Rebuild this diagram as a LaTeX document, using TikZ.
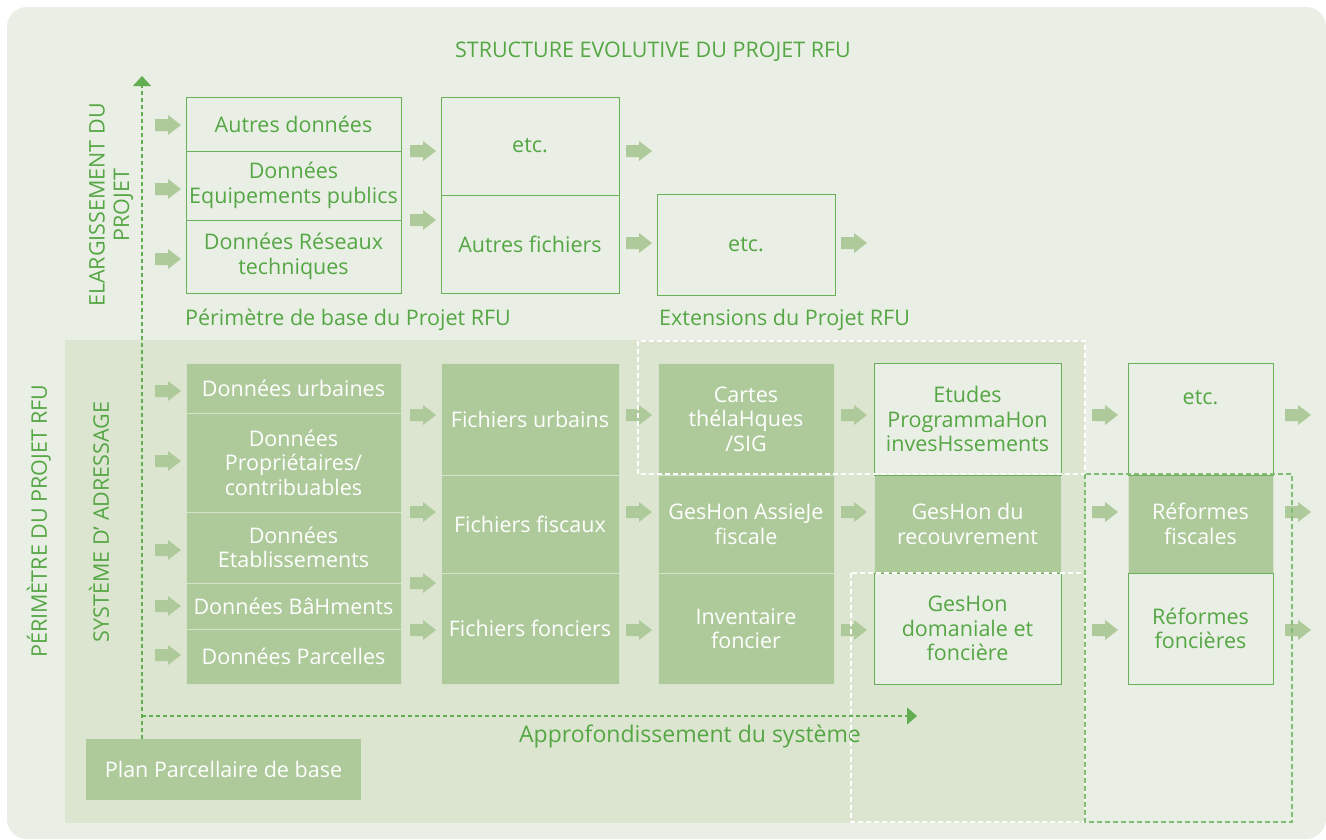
\documentclass[tikz,border=0pt]{standalone}
\usepackage{fontspec}
\setmainfont{Open Sans}
\usepackage{tikz}
\usetikzlibrary{arrows.meta}

\definecolor{bgpale}{HTML}{E9EFE4}
\definecolor{bgdark}{HTML}{DCE5D0}
\definecolor{boxfill}{HTML}{AECA9B}
\definecolor{sepline}{HTML}{D6E2CB}
\definecolor{txtgreen}{HTML}{55A644}
\definecolor{boxline}{HTML}{6AB058}
\definecolor{guidegreen}{HTML}{62AE50}

\tikzset{
	basebox/.style={inner sep=0pt, align=center, font=\fontsize{21.5}{24.5}\selectfont},
	linebox/.style={basebox, draw=boxline, line width=1pt, fill=bgpale, text=txtgreen},
	fullbox/.style={basebox, draw=sepline, line width=1pt, fill=boxfill, text=white},
	lbltext/.style={inner sep=0pt, text=txtgreen, font=\fontsize{21.5}{24.5}\selectfont},
	guide/.style={draw=guidegreen, line width=1.1pt, dash pattern=on 4pt off 3pt},
	whiteguide/.style={draw=white, line width=1.4pt, dash pattern=on 5pt off 3pt},
	greenguide/.style={draw=guidegreen!80, line width=1.4pt, dash pattern=on 5pt off 3pt},
	garrow/.pic={\fill[boxfill] (0,-6) -- (13,-6) -- (13,-10) -- (26,0) -- (13,10) -- (13,6) -- (0,6) -- cycle;}
}

\begin{document}
\begin{tikzpicture}[x=1pt, y=-1pt]
	\useasboundingbox (0,0) rectangle (1326,839);
	% fonds
	\fill[white] (0,0) rectangle (1326,839);
	\fill[bgpale, rounded corners=20] (7,7) rectangle (1326,839);
	\fill[bgdark] (65,340) rectangle (1085,823);
	%
	\node[lbltext] (titre) at (653,52) {STRUCTURE EVOLUTIVE DU PROJET RFU};
	\node[lbltext, rotate=90, align=center] (elarg) at (111,205) {ELARGISSEMENT DU\\PROJET};
	\node[lbltext, anchor=west] (perbase) at (185,320) {Périmètre de base du Projet RFU};
	\node[lbltext, anchor=west] (extens) at (659,320) {Extensions du Projet RFU};
	\node[lbltext, rotate=90] (perim) at (39,521) {PÉRIMÈTRE DU PROJET RFU};
	\node[lbltext, rotate=90] (adress) at (99,522) {SYSTÈME D’ ADRESSAGE};
	\node[lbltext, font=\fontsize{23}{26}\selectfont] (approf) at (690,736) {Approfondissement du système};
	%
	% elargissement du projet
	\node[linebox, minimum width=215, minimum height=54] (autres) at (293.5,124) {Autres données};
	\node[linebox, minimum width=215, minimum height=69] (equip) at (293.5,185.5) {Données\\Equipements publics};
	\node[linebox, minimum width=215, minimum height=73] (reseaux) at (293.5,256.5) {Données Réseaux\\techniques};
	\node[linebox, minimum width=178, minimum height=98] (etcA) at (530,146) {etc.};
	\node[linebox, minimum width=178, minimum height=98] (autfich) at (530,244) {Autres fichiers};
	\node[linebox, minimum width=178, minimum height=101] (etcB) at (746,244.5) {etc.};
	%
	% perimetre du projet
	\node[fullbox, minimum width=215, minimum height=50] (durb) at (293.5,388) {Données urbaines};
	\node[fullbox, minimum width=215, minimum height=99] (dprop) at (293.5,462.5) {Données\\Propriétaires/\\contribuables};
	\node[fullbox, minimum width=215, minimum height=71] (detab) at (293.5,547.5) {Données\\Etablissements};
	\node[fullbox, minimum width=215, minimum height=46] (dbat) at (293.5,606) {Données BâHments};
	\node[fullbox, minimum width=215, minimum height=55] (dparc) at (293.5,656.5) {Données Parcelles};
	%
	\node[fullbox, minimum width=178, minimum height=112] (furb) at (530,419) {Fichiers urbains};
	\node[fullbox, minimum width=178, minimum height=98] (ffisc) at (530,524) {Fichiers fiscaux};
	\node[fullbox, minimum width=178, minimum height=111] (ffonc) at (530,628.5) {Fichiers fonciers};
	%
	\node[fullbox, minimum width=176, minimum height=112] (cartes) at (746,419) {Cartes\\thélaHques\\/SIG};
	\node[fullbox, minimum width=176, minimum height=98] (assiette) at (746,524) {GesHon AssieJe\\fiscale};
	\node[fullbox, minimum width=176, minimum height=111] (invent) at (746,628.5) {Inventaire\\foncier};
	%
	\node[fullbox, minimum width=187, minimum height=98] (recouv) at (967.5,524) {GesHon du\\recouvrement};
	\node[linebox, minimum width=187, minimum height=112] (etudes) at (967.5,419) {Etudes\\ProgrammaHon\\invesHssements};
	\node[linebox, minimum width=187, minimum height=111] (domain) at (967.5,628.5) {GesHon\\domaniale et\\foncière};
	%
	\node[fullbox, minimum width=145, minimum height=98] (reffisc) at (1200.5,524) {Réformes\\fiscales};
	\node[linebox, minimum width=145, minimum height=112,
		label={[lbltext, anchor=north, yshift=-28pt]north:etc.}] (etcC) at (1200.5,419) {};
	\node[linebox, minimum width=145, minimum height=111] (reffonc) at (1200.5,628.5) {Réformes\\foncières};
	%
	\node[fullbox, draw=none, minimum width=275, minimum height=61] (plan) at (223.5,769.5) {Plan Parcellaire de base};
	%
	% fleches
	\foreach \y in {125,189,259,391,461,550,606,655}
		\pic at (155,\y) {garrow};
	\foreach \y in {151,220,415,512,583,630}
		\pic at (410,\y) {garrow};
	\foreach \y in {151,243,415,512,630}
		\pic at (626,\y) {garrow};
	\foreach \y in {243,415,512,630}
		\pic at (841,\y) {garrow};
	\foreach \x in {1092,1285}
		\foreach \y in {415,512,630}
			\pic at (\x,\y) {garrow};
	%
	% pointilles
	\draw[whiteguide] (638,341) rectangle (1085,474);
	\draw[whiteguide] (851,573) rectangle (1085,822);
	\draw[greenguide] (1085,474) rectangle (1292,822);
	%
	\coordinate (orig) at (142,739);
	\coordinate (haut) at (142,76);
	\coordinate (axe) at (142,716);
	\coordinate (droite) at (917,716);
	\draw[guide, -{Triangle[width=18pt,length=10pt]}] (orig) -- (haut);
	\draw[guide, -{Triangle[width=17pt,length=10pt]}] (axe) -- (droite);
\end{tikzpicture}
\end{document}
